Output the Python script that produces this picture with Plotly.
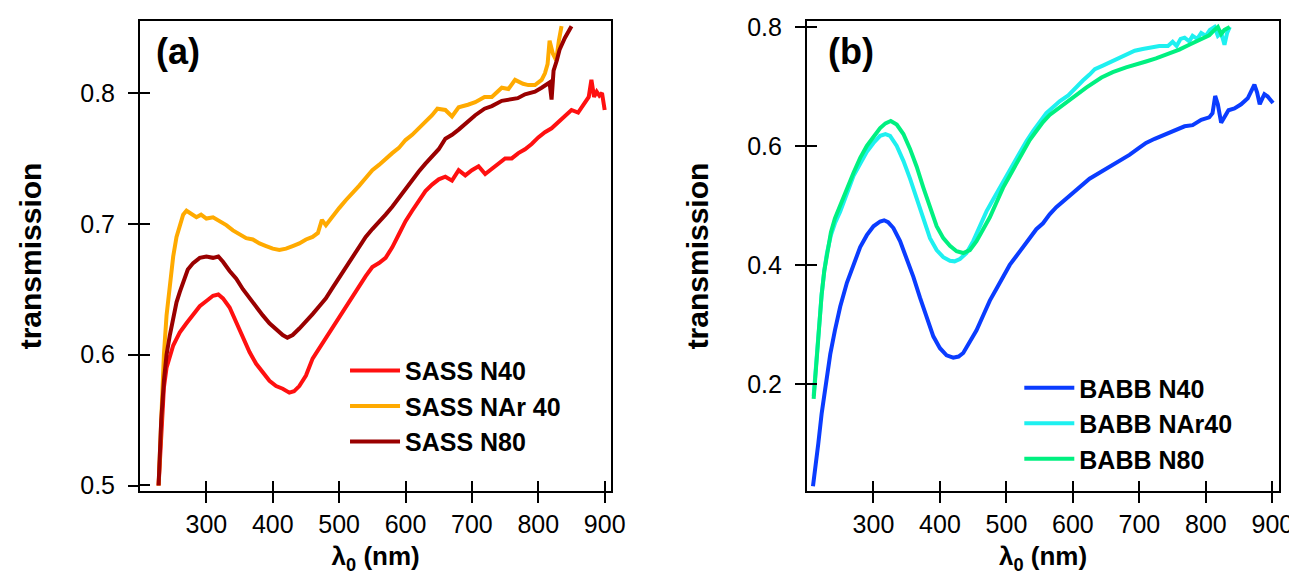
import plotly.graph_objects as go

# ---------------- data: panel (a) ----------------
x_sass_n40 = [228,232,236,240,245,250,255,260,270,280,290,300,310,318,325,335,345,355,365,375,385,395,405,415,425,432,440,450,460,470,480,490,500,510,520,530,540,550,560,570,580,590,600,610,620,630,640,650,660,670,680,690,700,710,720,730,740,750,760,770,780,790,800,810,820,830,840,850,860,870,876,880,884,888,892,896,900]
y_sass_n40 = [.500,.545,.575,.590,.600,.607,.612,.617,.624,.631,.637,.641,.645,.646,.643,.636,.625,.613,.602,.593,.586,.580,.576,.574,.571,.572,.576,.584,.597,.605,.612,.620,.628,.637,.645,.652,.660,.667,.670,.674,.682,.692,.702,.710,.718,.725,.730,.734,.736,.733,.741,.737,.741,.744,.738,.742,.746,.750,.750,.754,.757,.761,.766,.770,.773,.778,.782,.787,.785,.792,.797,.810,.797,.801,.798,.800,.787]

x_sass_nar40 = [228,232,236,240,245,250,255,260,265,270,278,285,292,300,310,320,330,340,350,360,370,380,390,400,410,420,430,440,450,460,468,474,480,490,500,510,520,530,540,550,560,570,580,590,600,610,620,630,640,648,660,670,680,694,705,719,730,745,755,765,777,785,795,805,810,814,817,822,827,831,835]
y_sass_nar40 = [.500,.550,.600,.630,.655,.675,.690,.700,.707,.710,.707,.705,.707,.704,.705,.702,.699,.695,.692,.689,.688,.685,.683,.681,.680,.681,.683,.685,.688,.690,.693,.703,.699,.706,.712,.718,.723,.729,.735,.741,.745,.750,.754,.758,.764,.768,.773,.777,.783,.788,.787,.782,.789,.791,.793,.797,.797,.804,.803,.810,.807,.806,.806,.810,.815,.822,.840,.830,.825,.840,.851]

x_sass_n80 = [228,232,236,240,245,250,255,260,266,272,280,290,300,310,318,325,335,345,355,365,375,385,395,405,415,422,430,440,450,460,470,480,490,500,510,520,530,540,550,560,570,580,590,600,610,620,630,640,650,660,670,680,694,705,719,730,745,757,769,780,795,805,813,817,820,823,828,832,840,850]
y_sass_n80 = [.500,.550,.580,.600,.615,.628,.640,.648,.657,.665,.670,.674,.675,.674,.675,.671,.664,.658,.650,.643,.636,.630,.624,.619,.615,.613,.615,.620,.625,.631,.637,.643,.651,.659,.667,.675,.683,.690,.696,.701,.707,.713,.720,.727,.733,.740,.746,.751,.757,.765,.768,.772,.778,.783,.788,.790,.794,.795,.796,.799,.801,.804,.807,.808,.795,.817,.825,.833,.842,.851]

# ---------------- data: panel (b) ----------------
x_babb_n40 = [209,213,217,222,228,235,242,250,260,270,280,290,300,310,316,322,330,340,350,360,370,380,390,400,410,420,428,435,445,455,465,475,485,495,505,515,525,535,545,555,565,575,585,595,605,615,625,640,655,670,685,700,710,723,735,745,755,768,780,793,805,810,814,818,823,828,834,843,853,863,868,873,877,881,885,888,893,897,901]
y_babb_n40 = [.028,.060,.100,.150,.200,.250,.290,.330,.370,.400,.430,.450,.465,.473,.475,.472,.462,.440,.410,.380,.345,.310,.280,.260,.248,.244,.246,.252,.270,.290,.315,.340,.360,.380,.400,.415,.430,.445,.460,.470,.485,.497,.507,.515,.525,.535,.545,.555,.565,.575,.585,.597,.605,.612,.618,.622,.627,.633,.635,.644,.648,.655,.684,.670,.639,.650,.660,.663,.670,.680,.690,.703,.690,.670,.680,.687,.683,.678,.672]

x_babb_nar40 = [210,214,218,222,226,230,236,242,250,260,270,280,290,300,310,318,325,335,345,355,365,375,385,395,405,415,422,430,440,450,460,470,480,490,500,510,520,530,540,550,560,570,580,593,605,615,625,633,645,655,668,680,693,705,718,730,743,750,756,762,768,775,780,787,793,800,806,813,818,823,828,832,836]
y_babb_nar40 = [.180,.240,.300,.350,.390,.420,.450,.470,.490,.520,.550,.570,.590,.605,.617,.620,.617,.600,.575,.545,.510,.475,.445,.425,.413,.407,.406,.410,.420,.440,.465,.490,.510,.530,.550,.570,.590,.608,.625,.640,.655,.665,.675,.685,.700,.710,.720,.729,.735,.740,.748,.753,.760,.763,.765,.768,.768,.775,.768,.780,.782,.776,.785,.780,.790,.785,.795,.800,.785,.790,.770,.790,.800]

x_babb_n80 = [210,214,218,222,226,230,236,242,250,260,270,280,290,300,310,318,326,335,345,355,365,375,385,395,405,415,425,435,445,455,465,475,485,495,505,515,525,535,545,555,565,580,593,605,620,643,660,680,693,710,725,743,760,775,793,805,813,818,823,828,836]
y_babb_n80 = [.175,.240,.300,.350,.390,.420,.455,.478,.500,.530,.555,.580,.600,.615,.630,.638,.642,.636,.620,.595,.565,.530,.495,.465,.445,.432,.423,.420,.425,.440,.460,.480,.505,.530,.550,.570,.590,.610,.625,.640,.652,.665,.675,.685,.698,.715,.724,.732,.737,.742,.747,.754,.762,.770,.779,.786,.795,.800,.788,.795,.800]

x_ticks = [300, 400, 500, 600, 700, 800, 900]
ya_ticks = [0.5, 0.6, 0.7, 0.8]
yb_ticks = [0.2, 0.4, 0.6, 0.8]

FONT = "Liberation Sans"
W = 4
XR = [200, 910]
YRA = [0.4958, 0.855]
YRB = [0.02, 0.81]

fig = go.Figure()
series_a = [
    (x_sass_n40, y_sass_n40, "SASS N40", "#ff1010"),
    (x_sass_nar40, y_sass_nar40, "SASS NAr 40", "#ffaa00"),
    (x_sass_n80, y_sass_n80, "SASS N80", "#9a0000"),
]
series_b = [
    (x_babb_n40, y_babb_n40, "BABB N40", "#0a3cff"),
    (x_babb_nar40, y_babb_nar40, "BABB NAr40", "#1ef0f0"),
    (x_babb_n80, y_babb_n80, "BABB N80", "#00f080"),
]
for xs, ys, name, col in series_a:
    fig.add_trace(go.Scatter(x=xs, y=ys, name=f"<b>{name}</b>", mode="lines",
                             line=dict(color=col, width=W), xaxis="x", yaxis="y", legend="legend"))
for xs, ys, name, col in series_b:
    fig.add_trace(go.Scatter(x=xs, y=ys, name=f"<b>{name}</b>", mode="lines",
                             line=dict(color=col, width=W), xaxis="x2", yaxis="y2", legend="legend2"))

tickfont = dict(family=FONT, size=25, color="black")
titlefont = dict(family=FONT, size=26, color="black")


def inner_minor(vals, eps):
    # inward half of the crossing tick marks
    return dict(tickmode="array", tickvals=[v + eps for v in vals], ticks="inside",
                ticklen=10, tickwidth=2, tickcolor="black", showgrid=False)


ax_common = dict(showline=True, linecolor="black", linewidth=2, mirror=True,
                 ticks="outside", ticklen=10, tickwidth=2, tickcolor="black",
                 showgrid=False, zeroline=False, tickfont=tickfont, automargin=False)

dom_a = [0, 0.4138]
dom_b = [0.5856, 1]

fig.update_layout(
    template="none",
    width=1297, height=576,
    margin=dict(l=132, r=26, t=13, b=93),
    paper_bgcolor="white", plot_bgcolor="white",
    showlegend=True,
    xaxis=dict(domain=dom_a, range=XR, tickvals=x_ticks, anchor="y", minor=inner_minor(x_ticks, 0.01),
               title=dict(text="<b>λ<sub>0</sub> (nm)</b>", font=titlefont, standoff=10), **ax_common),
    yaxis=dict(domain=[0, 1], range=YRA, tickvals=ya_ticks, ticktext=[f"{v:.1f}" for v in ya_ticks],
               anchor="x", minor=inner_minor(ya_ticks, 1e-5), ticklabelstandoff=8,
               title=dict(text="<b>transmission</b>", font=dict(family=FONT, size=30, color="black"), standoff=30),
               **ax_common),
    xaxis2=dict(domain=dom_b, range=XR, tickvals=x_ticks, anchor="y2", minor=inner_minor(x_ticks, 0.01),
                title=dict(text="<b>λ<sub>0</sub> (nm)</b>", font=titlefont, standoff=10), **ax_common),
    yaxis2=dict(domain=[0, 1], range=YRB, tickvals=yb_ticks, ticktext=[f"{v:.1f}" for v in yb_ticks],
                anchor="x2", minor=inner_minor(yb_ticks, 1e-5), ticklabelstandoff=8,
                title=dict(text="<b>transmission</b>", font=dict(family=FONT, size=30, color="black"), standoff=30),
                **ax_common),
    legend=dict(x=0.180, y=0.305, xanchor="left", yanchor="top", bgcolor="rgba(0,0,0,0)",
                font=dict(family=FONT, size=25, color="black"), tracegroupgap=0, itemwidth=50),
    legend2=dict(x=0.772, y=0.268, xanchor="left", yanchor="top", bgcolor="rgba(0,0,0,0)",
                 font=dict(family=FONT, size=25, color="black"), tracegroupgap=0, itemwidth=50),
    annotations=[
        dict(text="<b>(a)</b>", x=0.033, y=0.935, xref="paper", yref="paper", showarrow=False,
             xanchor="center", yanchor="middle", font=dict(family=FONT, size=36, color="black")),
        dict(text="<b>(b)</b>", x=0.624, y=0.935, xref="paper", yref="paper", showarrow=False,
             xanchor="center", yanchor="middle", font=dict(family=FONT, size=36, color="black")),
    ],
)

fig.write_html("out.html")
